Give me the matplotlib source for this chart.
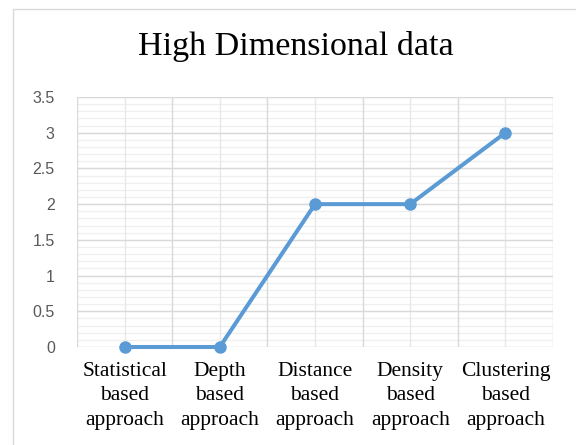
import matplotlib
matplotlib.use("Agg")
import matplotlib.pyplot as plt
from matplotlib.patches import Rectangle
import numpy as np

categories = ["Statistical\nbased\napproach", "Depth\nbased\napproach",
              "Distance\nbased\napproach", "Density\nbased\napproach",
              "Clustering\nbased\napproach"]
values = [0, 0, 2, 2, 3]
y_ticks = [0, 0.5, 1, 1.5, 2, 2.5, 3, 3.5]
y_tick_labels = ["0", "0.5", "1", "1.5", "2", "2.5", "3", "3.5"]
title = "High Dimensional data"

W, H = 576, 445
fig = plt.figure(figsize=(W / 100, H / 100), dpi=100)
fig.patch.set_facecolor("white")

# chart frame
fig.patches.append(Rectangle((13 / W, -0.1), 1.2, (H - 9) / H + 0.1,
                             transform=fig.transFigure, fill=False,
                             edgecolor="#d9d9d9", linewidth=1.0))

ax = fig.add_axes([77 / W, 1 - 347 / H, (553 - 77) / W, (347 - 97) / H])
x = np.arange(1, len(categories) + 1)

ax.set_xlim(0.5, len(categories) + 0.5)
ax.set_ylim(0, 3.5)

# gridlines
minor_y = np.arange(0, 3.5001, 0.1)
for yv in minor_y:
    ax.axhline(yv, color="#efefef", linewidth=0.9, zorder=0)
for yv in y_ticks:
    ax.axhline(yv, color="#d9d9d9", linewidth=1.0, zorder=0.5)
for xv in np.arange(0.5, len(categories) + 0.51, 1.0):
    ax.axvline(xv, color="#d9d9d9", linewidth=1.0, zorder=0.5)
for xv in x:
    ax.axvline(xv, color="#e8e8e8", linewidth=1.0, zorder=0.4)

ax.plot(x, values, color="#5b9bd5", linewidth=2.9, marker="o",
        markersize=8, solid_capstyle="round", zorder=3, clip_on=False)

for s in ax.spines.values():
    s.set_visible(False)

ax.set_yticks(y_ticks)
ax.set_yticklabels(y_tick_labels, fontfamily="Liberation Sans",
                   fontsize=11.5, color="#595959")
ax.set_xticks(x)
ax.set_xticklabels(categories, fontfamily="Liberation Serif", fontsize=15.5,
                   color="#000000", linespacing=1.42)
ax.tick_params(axis="y", length=0, pad=16)
ax.tick_params(axis="x", length=0, pad=10.5)

fig.text(296 / W, 1 - 47 / H, title, ha="center", va="center",
         fontfamily="Liberation Serif", fontsize=24.5, color="#000000")

fig.savefig("out.png", dpi=100)
